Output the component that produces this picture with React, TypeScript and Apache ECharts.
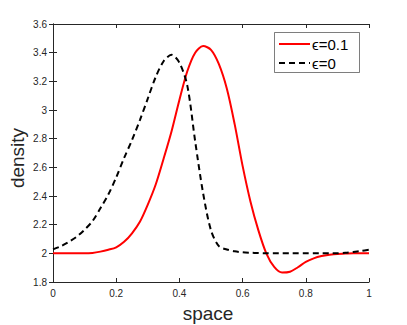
import React, { useEffect, useRef } from "react";
import * as echarts from "echarts";

const xTicks = [0, 0.2, 0.4, 0.6, 0.8, 1];
const yTicks = [1.8, 2, 2.2, 2.4, 2.6, 2.8, 3, 3.2, 3.4, 3.6];

const space = [
  0, 0.025, 0.05, 0.075, 0.1, 0.125, 0.15, 0.175, 0.2, 0.225, 0.25, 0.275, 0.3, 0.325, 0.35, 0.375, 0.4,
  0.425, 0.45, 0.475, 0.5, 0.525, 0.55, 0.575, 0.6, 0.625, 0.65, 0.675, 0.7, 0.725, 0.75, 0.775, 0.8,
  0.825, 0.85, 0.875, 0.9, 0.925, 0.95, 0.975, 1,
];
const densityEps01 = [
  2.0, 2.0, 2.0, 2.0, 2.0, 2.003, 2.012, 2.025, 2.042, 2.08, 2.14, 2.22, 2.34, 2.48, 2.66, 2.85, 3.07,
  3.27, 3.4, 3.446, 3.42, 3.32, 3.15, 2.9, 2.61, 2.36, 2.16, 2.0, 1.905, 1.866, 1.872, 1.903, 1.94,
  1.965, 1.981, 1.99, 1.996, 1.998, 2.0, 2.0, 2.0,
];
const densityEps0 = [
  2.028, 2.05, 2.08, 2.116, 2.165, 2.225, 2.315, 2.41, 2.53, 2.665, 2.79, 2.93, 3.08, 3.23, 3.34, 3.385, 3.33,
  3.17, 2.78, 2.42, 2.16, 2.05, 2.027, 2.014, 2.007, 2.004, 2.002, 2.0, 2.0, 2.0, 2.0, 2.0, 2.0,
  2.0, 2.0, 2.0, 2.001, 2.004, 2.01, 2.017, 2.025,
];

const seriesNames = ["\u03f5=0.1", "\u03f5=0"];
const xName = "space";
const yName = "density";

export default function App() {
  const ref = useRef<HTMLDivElement>(null);
  useEffect(() => {
    const chart = echarts.init(ref.current!, undefined, { renderer: "svg" });
    const axisColor = "#262626";
    const font = "'Liberation Sans', Arial, sans-serif";
    const tickLabel = { color: axisColor, fontSize: 10, fontFamily: font };
    const common = {
      axisLine: { show: true, lineStyle: { color: axisColor, width: 1 } },
      axisTick: { show: true, inside: true, length: 4, lineStyle: { color: axisColor } },
      splitLine: { show: false },
    };
    const fmt = (v: number) => String(+v.toFixed(1));
    chart.setOption({
      animation: false,
      backgroundColor: "#fff",
      grid: { left: 53, right: 38, top: 24, bottom: 43, outerBoundsMode: "none", containLabel: false },
      xAxis: [
        {
          type: "value",
          min: xTicks[0],
          max: xTicks[xTicks.length - 1],
          interval: 0.2,
          position: "bottom",
          axisLabel: { ...tickLabel, margin: 6, formatter: fmt },
          ...common,
        },
        {
          type: "value",
          min: xTicks[0],
          max: xTicks[xTicks.length - 1],
          interval: 0.2,
          position: "top",
          axisLabel: { show: false },
          ...common,
        },
      ],
      yAxis: [
        {
          type: "value",
          min: yTicks[0],
          max: yTicks[yTicks.length - 1],
          interval: 0.2,
          position: "left",
          axisLabel: { ...tickLabel, margin: 6, formatter: fmt },
          ...common,
        },
        {
          type: "value",
          min: yTicks[0],
          max: yTicks[yTicks.length - 1],
          interval: 0.2,
          position: "right",
          axisLabel: { show: false },
          ...common,
        },
      ],
      graphic: [
        {
          type: "text",
          x: 208,
          y: 313.5,
          style: { text: xName, fontSize: 19, fill: axisColor, fontFamily: font, align: "center", verticalAlign: "middle" },
        },
        {
          type: "text",
          x: 17,
          y: 158,
          rotation: Math.PI / 2,
          style: { text: yName, fontSize: 19, fill: axisColor, fontFamily: font, align: "center", verticalAlign: "middle" },
        },
        {
          type: "rect",
          shape: { x: 274.5, y: 32.5, width: 85, height: 40 },
          style: { fill: "#fff", stroke: "#262626", lineWidth: 0.6 },
          z: 100,
        },
        {
          type: "line",
          shape: { x1: 279, y1: 44, x2: 310, y2: 44 },
          style: { stroke: "#ff0000", lineWidth: 2 },
          z: 101,
        },
        {
          type: "text",
          x: 312,
          y: 44.5,
          style: { text: seriesNames[0], fontSize: 15, fill: "#000", fontFamily: font, verticalAlign: "middle" },
          z: 101,
        },
        {
          type: "line",
          shape: { x1: 279, y1: 63, x2: 310, y2: 63 },
          style: { stroke: "#000", lineWidth: 2, lineDash: [6, 4] },
          z: 101,
        },
        {
          type: "text",
          x: 312,
          y: 63.5,
          style: { text: seriesNames[1], fontSize: 15, fill: "#000", fontFamily: font, verticalAlign: "middle" },
          z: 101,
        },
      ],
      series: [
        {
          name: seriesNames[0],
          type: "line",
          data: space.map((s, i) => [s, densityEps01[i]]),
          smooth: 0.3,
          symbol: "none",
          lineStyle: { color: "#ff0000", width: 2 },
        },
        {
          name: seriesNames[1],
          type: "line",
          data: space.map((s, i) => [s, densityEps0[i]]),
          smooth: 0.3,
          symbol: "none",
          lineStyle: { color: "#000", width: 2, type: [6, 4] },
        },
      ],
    });
    return () => chart.dispose();
  }, []);
  return <div ref={ref} style={{ position: "absolute", left: 0, top: 0, width: 407, height: 325 }} />;
}
